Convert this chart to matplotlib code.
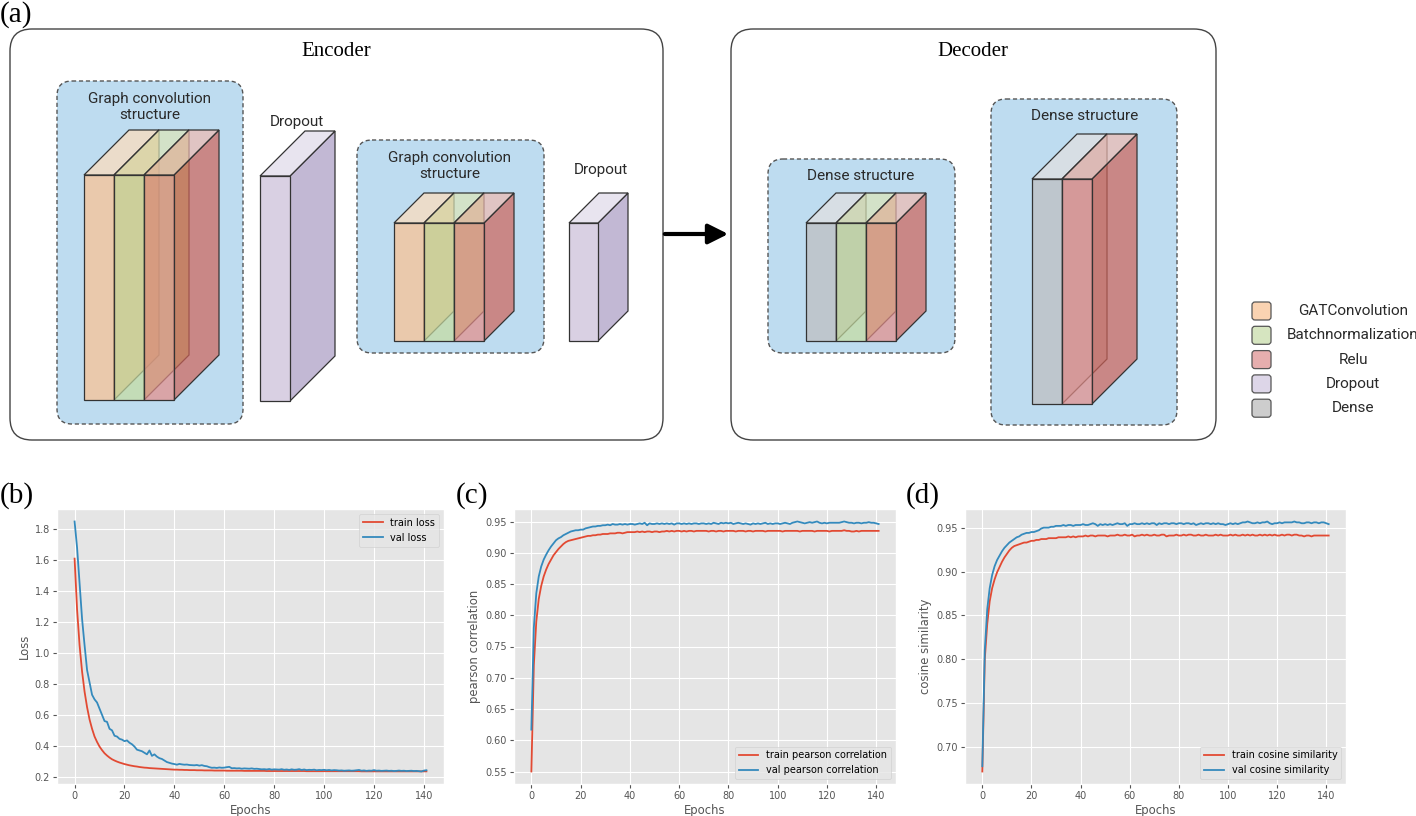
import matplotlib.pyplot as plt
from matplotlib.colors import to_rgba
from matplotlib.patches import Polygon, FancyBboxPatch

plt.style.use('ggplot')

# ---- training curves ----
epochs = list(range(142))

train_loss = [
    1.61, 1.28, 1.05, 0.88, 0.75, 0.65, 0.57, 0.51, 0.46, 0.425,
    0.395, 0.372, 0.352, 0.337, 0.324, 0.313, 0.305, 0.298, 0.292, 0.287,
    0.282, 0.278, 0.274, 0.271, 0.268, 0.266, 0.263, 0.261, 0.259, 0.258,
    0.256, 0.255, 0.254, 0.253, 0.252, 0.251, 0.250, 0.249, 0.248, 0.247,
    0.246, 0.246, 0.245, 0.245, 0.244, 0.244, 0.243, 0.243, 0.243, 0.242,
    0.242, 0.242, 0.241, 0.241, 0.241, 0.241, 0.240, 0.240, 0.240, 0.240,
    0.240, 0.239, 0.239, 0.239, 0.239, 0.239, 0.239, 0.239, 0.238, 0.238,
    0.238, 0.238, 0.238, 0.238, 0.238, 0.238, 0.238, 0.237, 0.237, 0.237,
    0.237, 0.237, 0.237, 0.237, 0.237, 0.237, 0.237, 0.237, 0.237, 0.237,
    0.237, 0.237, 0.237, 0.236, 0.236, 0.236, 0.236, 0.236, 0.236, 0.236,
    0.236, 0.236, 0.236, 0.236, 0.236, 0.236, 0.236, 0.236, 0.236, 0.236,
    0.236, 0.236, 0.236, 0.236, 0.236, 0.235, 0.235, 0.235, 0.235, 0.235,
    0.235, 0.235, 0.235, 0.235, 0.235, 0.235, 0.235, 0.235, 0.235, 0.235,
    0.235, 0.235, 0.235, 0.235, 0.235, 0.235, 0.235, 0.235, 0.235, 0.235,
    0.235, 0.235,
]
val_loss = [
    1.85, 1.68, 1.45, 1.22, 1.05, 0.89, 0.81, 0.73, 0.70, 0.68,
    0.64, 0.60, 0.56, 0.555, 0.51, 0.50, 0.465, 0.46, 0.445, 0.44,
    0.43, 0.435, 0.42, 0.41, 0.395, 0.375, 0.37, 0.365, 0.355, 0.345,
    0.37, 0.335, 0.345, 0.33, 0.32, 0.315, 0.305, 0.295, 0.29, 0.285,
    0.282, 0.278, 0.283, 0.28, 0.278, 0.279, 0.276, 0.275, 0.274, 0.276,
    0.272, 0.275, 0.270, 0.268, 0.262, 0.258, 0.259, 0.257, 0.260, 0.258,
    0.259, 0.262, 0.264, 0.255, 0.256, 0.254, 0.255, 0.252, 0.254, 0.253,
    0.252, 0.254, 0.251, 0.252, 0.250, 0.248, 0.249, 0.247, 0.250, 0.246,
    0.248, 0.247, 0.246, 0.249, 0.245, 0.247, 0.244, 0.248, 0.245, 0.246,
    0.249, 0.244, 0.247, 0.243, 0.245, 0.244, 0.246, 0.242, 0.244, 0.243,
    0.245, 0.242, 0.244, 0.241, 0.243, 0.242, 0.240, 0.241, 0.239, 0.240,
    0.241, 0.239, 0.240, 0.242, 0.244, 0.239, 0.241, 0.238, 0.240, 0.239,
    0.243, 0.239, 0.240, 0.238, 0.239, 0.240, 0.238, 0.239, 0.237, 0.238,
    0.240, 0.238, 0.239, 0.237, 0.238, 0.239, 0.237, 0.238, 0.236, 0.234,
    0.240, 0.242,
]

train_pearson = [
    0.550, 0.720, 0.790, 0.826, 0.847, 0.862, 0.873, 0.882, 0.889, 0.896,
    0.901, 0.906, 0.910, 0.914, 0.917, 0.919, 0.920, 0.921, 0.922, 0.923,
    0.924, 0.925, 0.926, 0.927, 0.927, 0.928, 0.928, 0.929, 0.929, 0.930,
    0.930, 0.930, 0.931, 0.931, 0.931, 0.932, 0.932, 0.931, 0.932, 0.933,
    0.933, 0.933, 0.933, 0.934, 0.933, 0.934, 0.933, 0.934, 0.934, 0.933,
    0.934, 0.934, 0.933, 0.934, 0.934, 0.935, 0.934, 0.935, 0.934, 0.935,
    0.935, 0.934, 0.935, 0.934, 0.935, 0.935, 0.934, 0.935, 0.935, 0.935,
    0.935, 0.935, 0.934, 0.935, 0.935, 0.934, 0.935, 0.935, 0.934, 0.935,
    0.935, 0.935, 0.935, 0.934, 0.935, 0.935, 0.935, 0.934, 0.935, 0.935,
    0.934, 0.935, 0.935, 0.935, 0.935, 0.934, 0.935, 0.935, 0.935, 0.935,
    0.935, 0.935, 0.934, 0.935, 0.935, 0.935, 0.935, 0.935, 0.935, 0.934,
    0.935, 0.935, 0.935, 0.935, 0.935, 0.934, 0.935, 0.935, 0.935, 0.935,
    0.935, 0.934, 0.935, 0.935, 0.935, 0.935, 0.935, 0.936, 0.935, 0.935,
    0.934, 0.934, 0.935, 0.934, 0.935, 0.935, 0.935, 0.935, 0.935, 0.935,
    0.935, 0.935,
]
val_pearson = [
    0.617, 0.780, 0.835, 0.862, 0.878, 0.889, 0.897, 0.904, 0.910, 0.915,
    0.920, 0.923, 0.925, 0.928, 0.930, 0.932, 0.934, 0.935, 0.936, 0.936,
    0.937, 0.937, 0.939, 0.940, 0.941, 0.942, 0.942, 0.943, 0.943, 0.944,
    0.944, 0.945, 0.944, 0.946, 0.945, 0.945, 0.946, 0.945, 0.946, 0.945,
    0.946, 0.946, 0.945, 0.946, 0.947, 0.946, 0.948, 0.944, 0.947, 0.946,
    0.946, 0.947, 0.946, 0.947, 0.946, 0.947, 0.946, 0.947, 0.945, 0.947,
    0.947, 0.946, 0.947, 0.946, 0.947, 0.946, 0.947, 0.947, 0.946, 0.947,
    0.947, 0.946, 0.947, 0.946, 0.948, 0.947, 0.946, 0.948, 0.947, 0.948,
    0.947, 0.948, 0.946, 0.947, 0.948, 0.947, 0.946, 0.947, 0.946, 0.945,
    0.947, 0.946, 0.947, 0.946, 0.947, 0.948, 0.946, 0.947, 0.946, 0.947,
    0.947, 0.946, 0.947, 0.948, 0.947, 0.946, 0.948, 0.949, 0.950, 0.949,
    0.948, 0.947, 0.948, 0.949, 0.948, 0.949, 0.950, 0.948, 0.947, 0.948,
    0.947, 0.948, 0.948, 0.948, 0.948, 0.948, 0.949, 0.950, 0.949, 0.948,
    0.948, 0.947, 0.948, 0.948, 0.947, 0.948, 0.948, 0.949, 0.948, 0.948,
    0.947, 0.946,
]

train_cosine = [
    0.672, 0.800, 0.840, 0.866, 0.881, 0.891, 0.899, 0.905, 0.911, 0.916,
    0.920, 0.924, 0.927, 0.929, 0.930, 0.931, 0.932, 0.933, 0.933, 0.934,
    0.935, 0.935, 0.936, 0.936, 0.937, 0.937, 0.937, 0.938, 0.938, 0.938,
    0.938, 0.939, 0.939, 0.939, 0.939, 0.940, 0.939, 0.940, 0.939, 0.940,
    0.940, 0.940, 0.941, 0.940, 0.941, 0.941, 0.940, 0.941, 0.941, 0.941,
    0.941, 0.940, 0.941, 0.941, 0.941, 0.942, 0.941, 0.941, 0.942, 0.941,
    0.941, 0.942, 0.940, 0.941, 0.941, 0.942, 0.941, 0.942, 0.941, 0.941,
    0.942, 0.941, 0.941, 0.942, 0.942, 0.940, 0.941, 0.941, 0.941, 0.942,
    0.941, 0.941, 0.942, 0.941, 0.942, 0.942, 0.941, 0.941, 0.942, 0.941,
    0.941, 0.942, 0.941, 0.941, 0.941, 0.942, 0.941, 0.942, 0.941, 0.941,
    0.941, 0.942, 0.941, 0.942, 0.941, 0.941, 0.942, 0.941, 0.942, 0.941,
    0.942, 0.941, 0.941, 0.942, 0.941, 0.942, 0.941, 0.942, 0.941, 0.942,
    0.941, 0.941, 0.942, 0.941, 0.942, 0.942, 0.941, 0.942, 0.942, 0.941,
    0.941, 0.940, 0.941, 0.941, 0.940, 0.941, 0.941, 0.941, 0.941, 0.941,
    0.941, 0.941,
]
val_cosine = [
    0.678, 0.810, 0.857, 0.881, 0.896, 0.906, 0.913, 0.918, 0.923, 0.927,
    0.930, 0.933, 0.935, 0.937, 0.939, 0.940, 0.942, 0.943, 0.944, 0.944,
    0.945, 0.945, 0.946, 0.947, 0.949, 0.950, 0.950, 0.950, 0.951, 0.951,
    0.952, 0.952, 0.952, 0.953, 0.952, 0.953, 0.953, 0.952, 0.953, 0.953,
    0.953, 0.954, 0.953, 0.953, 0.954, 0.955, 0.954, 0.952, 0.954, 0.953,
    0.954, 0.953, 0.954, 0.953, 0.954, 0.955, 0.954, 0.954, 0.955, 0.952,
    0.954, 0.954, 0.955, 0.954, 0.954, 0.955, 0.954, 0.955, 0.954, 0.955,
    0.955, 0.953, 0.955, 0.954, 0.955, 0.955, 0.954, 0.955, 0.955, 0.954,
    0.955, 0.955, 0.954, 0.955, 0.955, 0.954, 0.955, 0.953, 0.954, 0.955,
    0.954, 0.955, 0.955, 0.954, 0.955, 0.954, 0.955, 0.954, 0.954, 0.953,
    0.954, 0.955, 0.954, 0.955, 0.954, 0.955, 0.956, 0.956, 0.957, 0.956,
    0.955, 0.955, 0.956, 0.955, 0.956, 0.956, 0.957, 0.955, 0.954, 0.955,
    0.955, 0.956, 0.955, 0.956, 0.956, 0.956, 0.956, 0.957, 0.956, 0.956,
    0.955, 0.955, 0.956, 0.956, 0.955, 0.956, 0.956, 0.955, 0.956, 0.956,
    0.955, 0.954,
]

# ---- diagram legend ----
layer_names = ['GATConvolution', 'Batchnormalization', 'Relu', 'Dropout', 'Dense']
legend_colors = ['#FAD3B2', '#D6E5C0', '#E6AEAE', '#DDD6E8', '#CDCDCD']

# face colours (front, top, side) of each layer type; the slabs are
# semi-transparent so the side of the previous slab shows through
LAYER = {
    'gat': ('#FEC18F', '#FFDCBB', '#E99F65'),
    'bn': ('#C6DCA0', '#DCE5B7', '#A6C561'),
    'relu': ('#E58D89', '#EFBAB1', '#CE6359'),
    'drop': ('#D9D0E3', '#E8E4EF', '#C2B8D4'),
    'dense': ('#BEBDBF', '#E3DFDF', '#ACA8AC'),
}
BLUE = '#BEDCF0'
SANS = ['Roboto', 'DejaVu Sans']
SERIF = ['Liberation Serif', 'DejaVu Serif']

W, H = 1416, 816
fig = plt.figure(figsize=(W / 100, H / 100), dpi=100)

# full-figure axes in pixel units for the architecture sketch
dax = fig.add_axes([0, 0, 1, 1])
dax.set_xlim(0, W)
dax.set_ylim(H, 0)
dax.axis('off')


def rbox(x0, y0, x1, y1, r, fc, ec, ls='-', lw=1.0):
    dax.add_patch(FancyBboxPatch((x0, y0), x1 - x0, y1 - y0,
                                 boxstyle=f'round,pad=0,rounding_size={r}',
                                 fc=fc, ec=ec, ls=ls, lw=lw))


def slab(x, yt, w, h, d, key, alpha=0.7):
    f, t, s = [to_rgba(c, alpha) for c in LAYER[key]]
    kw = dict(edgecolor='#333333', lw=0.9, closed=True)
    dax.add_patch(Polygon([(x + w, yt), (x + w + d, yt - d), (x + w + d, yt + h - d), (x + w, yt + h)],
                          facecolor=s, **kw))
    dax.add_patch(Polygon([(x, yt), (x + d, yt - d), (x + w + d, yt - d), (x + w, yt)],
                          facecolor=t, **kw))
    dax.add_patch(Polygon([(x, yt), (x + w, yt), (x + w, yt + h), (x, yt + h)],
                          facecolor=f, **kw))


def stack(x, yt, w, h, d, keys, alpha=0.7):
    for i, k in enumerate(keys):
        slab(x + i * w, yt, w, h, d, k, alpha)


def label(x, y, s, size=11):
    dax.text(x, y, s, ha='center', va='center', fontsize=size, family=SANS,
             color='#2a2a2a', linespacing=1.25)


# outer boxes
rbox(10, 29, 663, 440, 22, 'white', '#444444')
rbox(731, 29, 1216, 440, 22, 'white', '#444444')
dax.text(336, 52, 'Encoder', ha='center', va='center', fontsize=15, family=SERIF)
dax.text(973, 52, 'Decoder', ha='center', va='center', fontsize=15, family=SERIF)

# dashed sub-structures
dash = (0, (3, 2))
rbox(57, 81, 243, 424, 15, BLUE, '#555555', dash)
rbox(357, 140, 544, 353, 15, BLUE, '#555555', dash)
rbox(768, 159, 955, 353, 15, BLUE, '#555555', dash)
rbox(991, 99, 1177, 425, 15, BLUE, '#555555', dash)

label(150, 107, 'Graph convolution\nstructure')
label(450, 166, 'Graph convolution\nstructure')
label(861, 176, 'Dense structure')
label(1085, 116, 'Dense structure')
label(297, 122, 'Dropout')
label(601, 170, 'Dropout')

# blocks
stack(84, 175, 30, 225, 45, ['gat', 'bn', 'relu'])
stack(260, 176, 30, 225, 45, ['drop'], alpha=1.0)
stack(394, 223, 30, 118, 30, ['gat', 'bn', 'relu'])
stack(569, 223, 29, 118, 30, ['drop'], alpha=1.0)
stack(806, 223, 30, 118, 30, ['dense', 'bn', 'relu'])
stack(1032, 179, 30, 225, 45, ['dense', 'relu'])

# arrow encoder -> decoder
dax.annotate('', xy=(731, 234), xytext=(662, 234),
             arrowprops=dict(arrowstyle='-|>', lw=3, color='black', mutation_scale=30))

# legend of layer types
for i, (name, col) in enumerate(zip(layer_names, legend_colors)):
    yc = 311 + i * 24.3
    dax.add_patch(FancyBboxPatch((1252, yc - 9), 19, 18,
                                 boxstyle='round,pad=0,rounding_size=3',
                                 fc=col, ec='#555555', lw=0.9))
    label(1353, yc, name, size=11)

# panel letters
for x, y, s in [(0, 15, '(a)'), (0, 496, '(b)'), (456, 496, '(c)'), (906, 496, '(d)')]:
    dax.text(x, y, s, ha='left', va='center', fontsize=21, family=SERIF)

# ---- training curves ----
RED, BLUE_LINE = '#E24A33', '#348ABD'


def curve_panel(left, width, train, val, ylab, labels, loc):
    ax = fig.add_axes([left / W, (H - 784) / H, width / W, 275 / H])
    ax.plot(epochs, train, color=RED, lw=1.3, label=labels[0])
    ax.plot(epochs, val, color=BLUE_LINE, lw=1.3, label=labels[1])
    ax.set_xlabel('Epochs', fontsize=8.4, labelpad=2)
    ax.set_ylabel(ylab, fontsize=8.4, labelpad=3)
    ax.tick_params(labelsize=7, length=3, pad=2)
    ax.legend(loc=loc, fontsize=7)
    return ax


curve_panel(57, 387, train_loss, val_loss, 'Loss', ['train loss', 'val loss'], 'upper right')
curve_panel(514, 382, train_pearson, val_pearson, 'pearson correlation',
            ['train pearson correlation', 'val pearson correlation'], 'lower right')
curve_panel(965, 381, train_cosine, val_cosine, 'cosine similarity',
            ['train cosine similarity', 'val cosine similarity'], 'lower right')

fig.savefig('out.png', dpi=100)
